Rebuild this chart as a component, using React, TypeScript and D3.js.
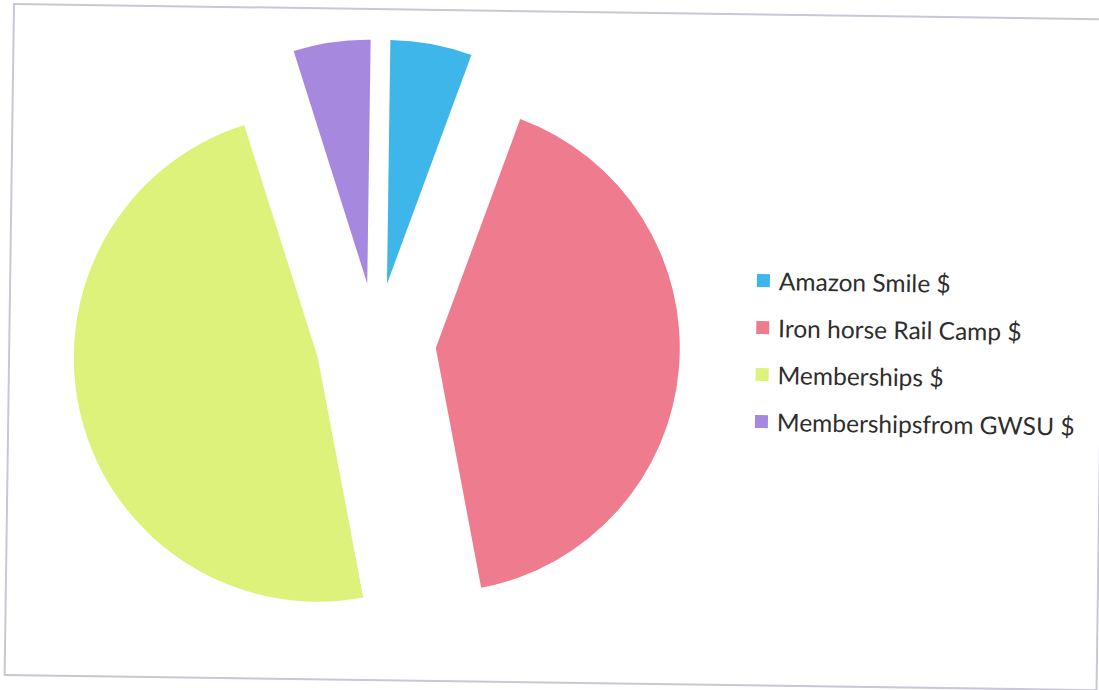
import React from "react";
import * as d3 from "d3";

const labels = ["Amazon Smile $", "Iron horse Rail Camp $", "Memberships $", "Membershipsfrom GWSU $"];
const values = [54, 414, 481, 51];
const colors = ["#3fb6ea", "#ef7b8f", "#dcf27b", "#a688df"];

const W = 1099;
const H = 690;
const tilt = 0.8; // scan is a bit crooked

export default function App() {
  const cx = 376, cy = 343;
  const radius = 244;
  const explode = 60;
  const rad = (tilt * Math.PI) / 180;

  const pie = d3.pie<number>().sort(null).startAngle(rad).endAngle(rad + 2 * Math.PI);
  const arc = d3.arc<d3.PieArcDatum<number>>().innerRadius(0).outerRadius(radius);
  const arcs = pie(values);

  return (
    <svg width={W} height={H} style={{ position: "absolute", left: 0, top: 0 }}>
      <rect width={W} height={H} fill="#fff" />
      <rect
        x={14}
        y={4}
        width={1092}
        height={671}
        fill="none"
        stroke="#c9c6d6"
        strokeWidth={2}
        transform={`rotate(${tilt} 14 4)`}
      />
      <g transform={`translate(${cx},${cy})`}>
        {arcs.map((a, i) => {
          const mid = (a.startAngle + a.endAngle) / 2;
          const dx = Math.sin(mid) * explode;
          const dy = -Math.cos(mid) * explode;
          return <path key={i} d={arc(a) || ""} fill={colors[i]} transform={`translate(${dx},${dy})`} />;
        })}
      </g>
      <g transform={`rotate(${tilt} 757 274)`} style={{ fontFamily: "Lato, sans-serif", fontSize: 24.5 }}>
        {labels.map((l, i) => (
          <g key={l} transform={`translate(757,${274 + i * 47})`}>
            <rect width={13} height={13} fill={colors[i]} />
            <text x={22} y={16} fill="#2e2e2e">{l}</text>
          </g>
        ))}
      </g>
    </svg>
  );
}
